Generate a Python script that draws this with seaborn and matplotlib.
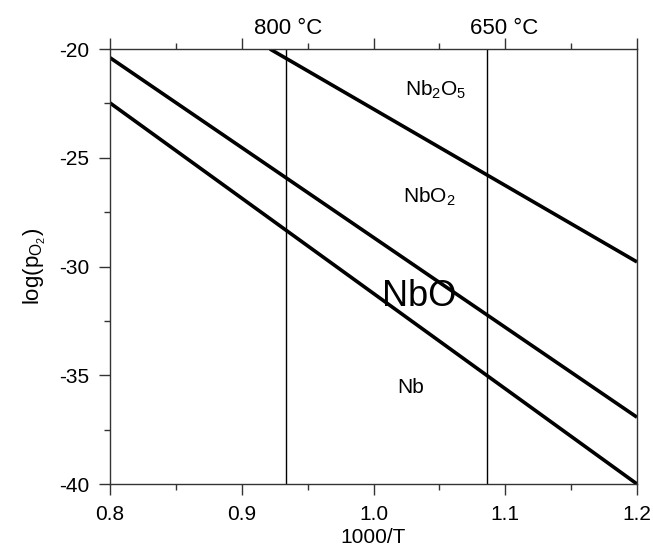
import matplotlib
matplotlib.use("Agg")
import matplotlib.pyplot as plt
import seaborn as sns
import pandas as pd

# Phase boundary lines (endpoints)
nb2o5_nbo2_x = [0.9214, 1.2]
nb2o5_nbo2_y = [-20.0, -29.79]
nbo2_nbo_x = [0.8, 1.2]
nbo2_nbo_y = [-20.40, -36.93]
nbo_nb_x = [0.8, 1.2]
nbo_nb_y = [-22.48, -40.0]

# Temperature markers (1000/T)
temp_x = [0.9333, 1.0858]
temp_labels = ["800 °C", "650 °C"]
temp_label_x = [0.935, 1.099]

# Phase region labels
phase_labels = [r"Nb$_2$O$_5$", r"NbO$_2$", "NbO", "Nb"]
phase_x = [1.0475, 1.042, 1.0345, 1.028]
phase_y = [-21.9, -26.8, -31.4, -35.56]
phase_sizes = [15, 15, 26, 15]

x_ticks = [0.8, 0.9, 1.0, 1.1, 1.2]
x_ticklabels = ["0.8", "0.9", "1.0", "1.1", "1.2"]
y_ticks = [-40, -35, -30, -25, -20]

sns.set_theme(style="ticks")
plt.rcParams["font.family"] = ["Liberation Sans", "DejaVu Sans"]
plt.rcParams["mathtext.fontset"] = "custom"
plt.rcParams["mathtext.rm"] = "Liberation Sans"
plt.rcParams["mathtext.it"] = "Liberation Sans"
plt.rcParams["axes.unicode_minus"] = False

fig = plt.figure(figsize=(6.53, 5.48), dpi=100)
ax = fig.add_axes([110 / 653, 1 - 484 / 548, 527 / 653, 435 / 548])

lines = [(nb2o5_nbo2_x, nb2o5_nbo2_y), (nbo2_nbo_x, nbo2_nbo_y), (nbo_nb_x, nbo_nb_y)]
for i, (lx, ly) in enumerate(lines):
    df = pd.DataFrame({"x": lx, "y": ly})
    sns.lineplot(data=df, x="x", y="y", ax=ax, color="black", linewidth=2.6,
                 solid_capstyle="butt", clip_on=True)

for tx in temp_x:
    ax.axvline(tx, color="black", linewidth=1.0)

for t, tx in zip(temp_labels, temp_label_x):
    ax.text(tx, 1.048, t, transform=ax.get_xaxis_transform(), ha="center",
            va="center", fontsize=16, color="black")

for lab, px, py, fs in zip(phase_labels, phase_x, phase_y, phase_sizes):
    ax.text(px, py, lab, ha="center", va="center", fontsize=fs, color="black")

ax.set_xlim(0.8, 1.2)
ax.set_ylim(-40, -20)
ax.set_xticks(x_ticks)
ax.set_xticklabels(x_ticklabels)
ax.set_yticks(y_ticks)
ax.set_xticks([0.85, 0.95, 1.05, 1.15], minor=True)
ax.set_yticks([-37.5, -32.5, -27.5, -22.5], minor=True)

ax.tick_params(axis="both", which="major", direction="out", length=8, width=1,
               color="#333333", labelcolor="black")
ax.tick_params(axis="x", which="major", labelsize=15, pad=7)
ax.tick_params(axis="y", which="major", labelsize=15, pad=7)
ax.tick_params(axis="both", which="minor", direction="out", length=4, width=1,
               color="#333333")
ax.tick_params(axis="x", which="both", top=True, labeltop=False)
ax.tick_params(axis="y", which="both", right=False)

for s in ax.spines.values():
    s.set_visible(True)
    s.set_color("#333333")
    s.set_linewidth(1.0)

ax.set_xlabel("1000/T", fontsize=15, color="black", labelpad=3)
ax.set_ylabel(r"log(p$_{\mathregular{O_2}}$)", fontsize=16, color="black", labelpad=8)
ax.grid(False)

fig.savefig("out.png", dpi=100)
